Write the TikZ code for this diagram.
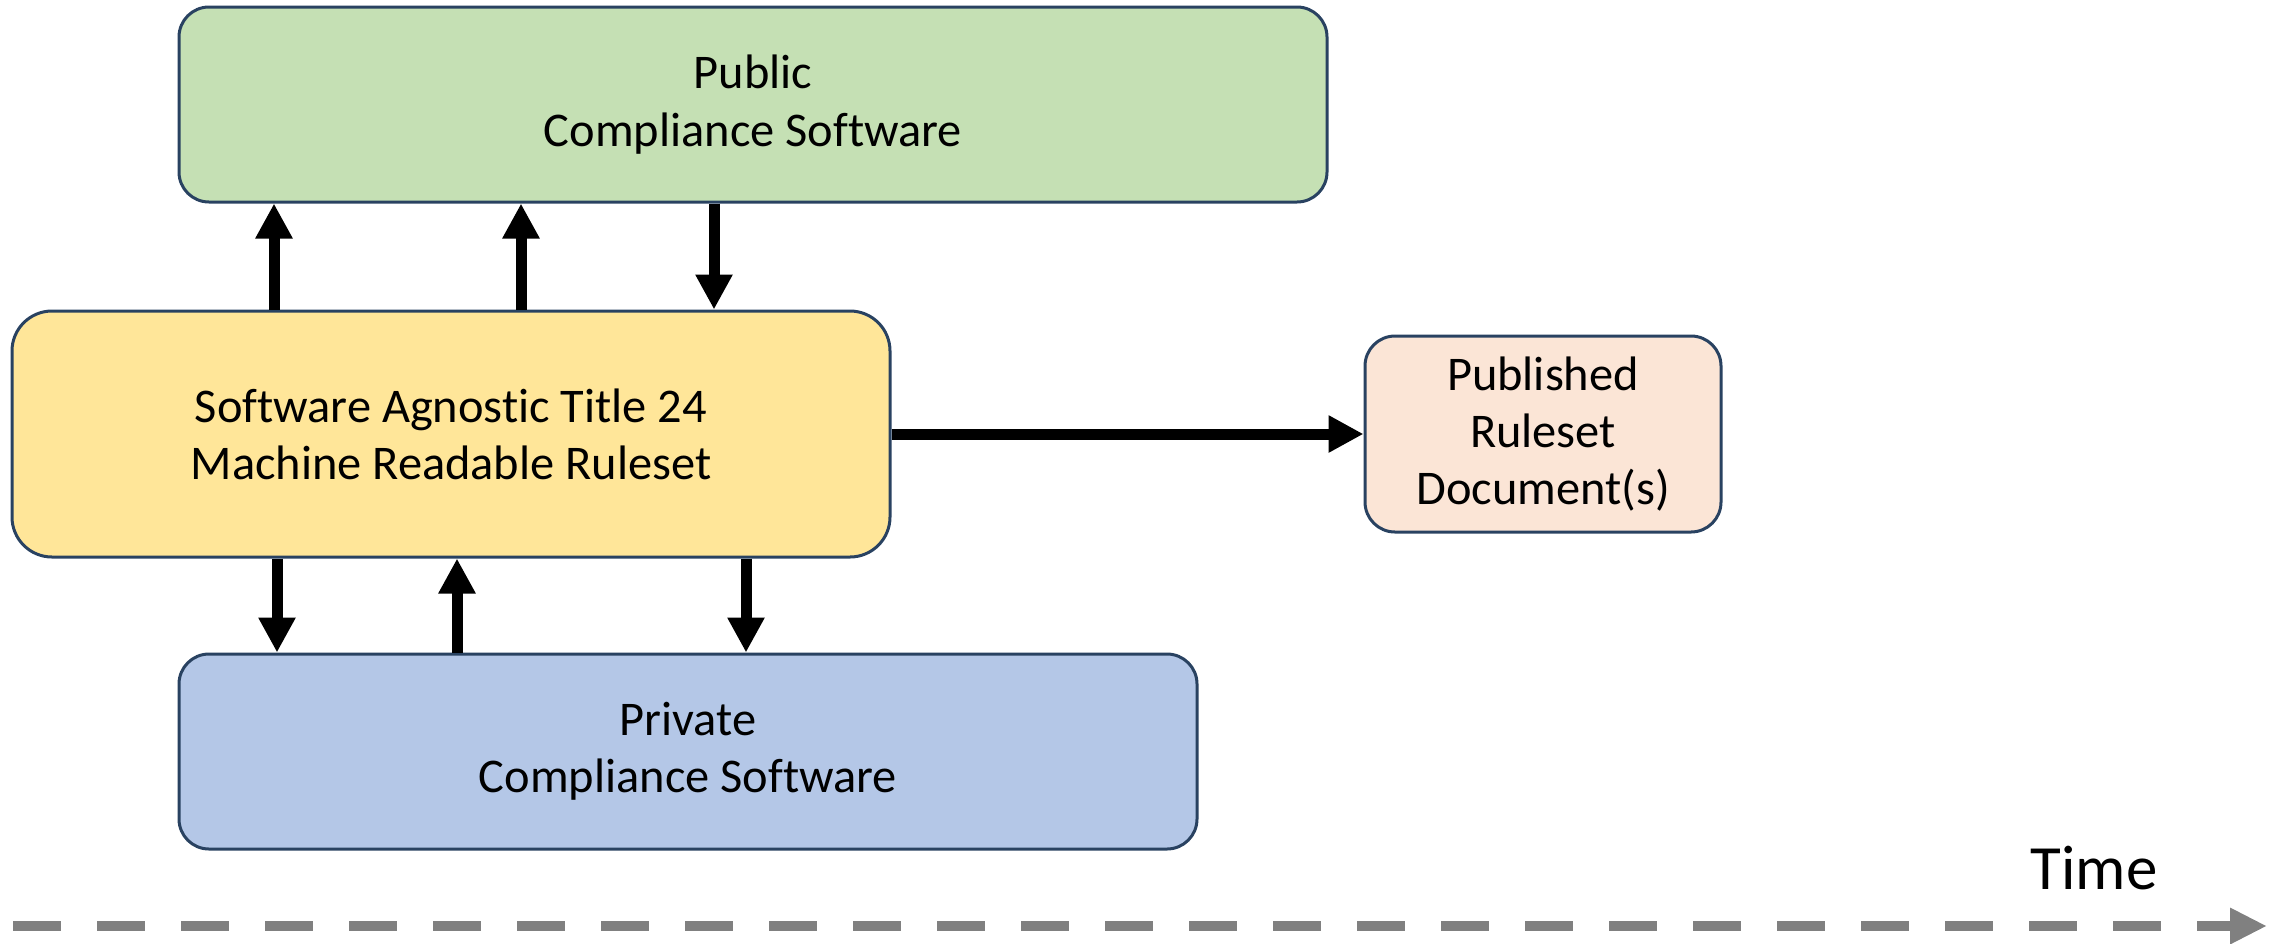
\documentclass[tikz,border=0pt]{standalone}
\usepackage{fontspec}
\setmainfont{Carlito}[Ligatures=NoCommon]
\usetikzlibrary{arrows.meta}
\definecolor{pubgreen}{HTML}{C5E0B4}
\definecolor{rsyellow}{HTML}{FFE699}
\definecolor{privblue}{HTML}{B4C7E7}
\definecolor{docpeach}{HTML}{FBE5D6}
\definecolor{edgeblue}{RGB}{41,66,97}
\definecolor{timegray}{HTML}{808080}
\begin{document}
\begin{tikzpicture}[x=0.5pt,y=-0.5pt,
  box/.style={draw=edgeblue, line width=1.5pt, rounded corners=15pt, inner sep=0pt,
    align=center, font=\fontsize{24.2}{28.6}\selectfont},
  flow/.style={line width=5.5pt, -{Triangle[length=17.5pt,width=17.5pt]}},
  timeline/.style={draw=timegray, line width=5pt, dash pattern=on 24pt off 18pt,
    -{Triangle[length=18.5pt,width=17pt]}}]
\useasboundingbox (0,0) rectangle (2279,943);
\node[box, fill=pubgreen, minimum width=574pt, minimum height=97.5pt] (pub) at (753,104.5)
  {Public\\Compliance Software};
\node[box, fill=rsyellow, rounded corners=20pt, minimum width=439pt, minimum height=123pt] (rs) at (451,434)
  {Software Agnostic Title 24\\Machine Readable Ruleset};
\node[box, fill=docpeach, minimum width=178pt, minimum height=98pt] (doc) at (1543,434)
  {Published\\Ruleset\\Document(s)};
\node[box, fill=privblue, minimum width=509pt, minimum height=97.5pt] (priv) at (688,751.5)
  {Private\\Compliance Software};
\node[anchor=base, font=\fontsize{31.5}{37}\selectfont] (time) at (2094,889) {Time};
\coordinate (u1) at (274,0);
\coordinate (u2) at (521,0);
\coordinate (u3) at (714,0);
\coordinate (l1) at (277,0);
\coordinate (l2) at (457,0);
\coordinate (l3) at (746,0);
\draw[flow] (rs.north -| u1) -- (pub.south -| u1);
\draw[flow] (rs.north -| u2) -- (pub.south -| u2);
\draw[flow] (pub.south -| u3) -- (rs.north -| u3);
\draw[flow] (rs.south -| l1) -- (priv.north -| l1);
\draw[flow] (priv.north -| l2) -- (rs.south -| l2);
\draw[flow] (rs.south -| l3) -- (priv.north -| l3);
\draw[flow] (rs.east) -- (doc.west);
\coordinate (t0) at (13,926);
\coordinate (t1) at (2267,926);
\draw[timeline] (t0) -- (t1);
\end{tikzpicture}
\end{document}
